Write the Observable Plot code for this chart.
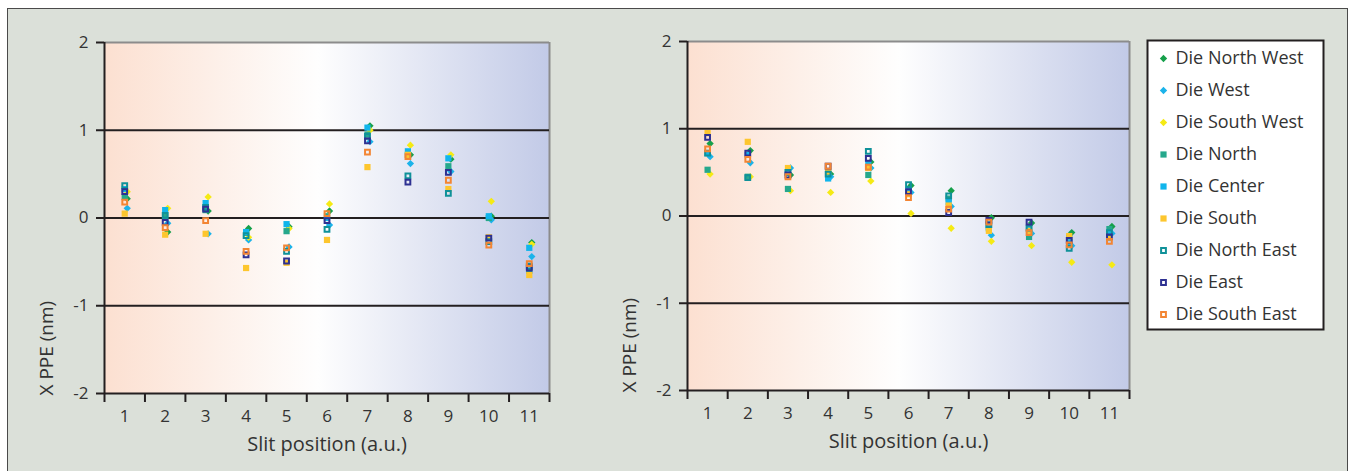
<!DOCTYPE html>
<html><head><meta charset="utf-8">
<script src="https://cdn.jsdelivr.net/npm/d3@7"></script>
<script src="https://cdn.jsdelivr.net/npm/@observablehq/plot@0.6"></script>
<style>
body{margin:0;background:#fff;width:1355px;height:471px;overflow:hidden;position:relative;font-family:"Open Sans",sans-serif;}
#frame{position:absolute;left:7px;top:8px;width:1341px;height:470px;background:#dbe0d9;border:1.5px solid #4a4a4a;box-sizing:border-box;}
#left{position:absolute;left:0;top:0;}
#right{position:absolute;left:600px;top:0;}
#legend{position:absolute;left:1147px;top:40px;}
svg{overflow:visible;}
</style></head><body>
<div id="frame"></div><div id="left"></div><div id="right"></div><div id="legend"></div>
<script>
const positions = [1,2,3,4,5,6,7,8,9,10,11];
const boundaries = [0.5,1.5,2.5,3.5,4.5,5.5,6.5,7.5,8.5,9.5,10.5,11.5];
const yTicks = [-2,-1,0,1,2];
const seriesNames = ["Die North West","Die West","Die South West","Die North","Die Center","Die South","Die North East","Die East","Die South East"];

// Left chart values (X PPE, nm)
const leftNW = [0.22,-0.16,0.08,-0.12,-0.10,0.08,1.05,0.72,0.67,0.02,-0.28];
const leftW  = [0.11,-0.06,-0.18,-0.25,-0.33,-0.08,0.87,0.62,0.53,-0.02,-0.44];
const leftSW = [0.30,0.11,0.24,-0.22,-0.12,0.16,1.00,0.83,0.72,0.19,-0.30];
const leftN  = [0.24,0.02,0.09,-0.17,-0.15,0.02,0.95,0.72,0.59,0.00,-0.60];
const leftC  = [0.33,0.09,0.17,-0.16,-0.07,0.00,1.03,0.76,0.68,0.02,-0.34];
const leftS  = [0.05,-0.19,-0.18,-0.57,-0.51,-0.25,0.58,0.72,0.33,-0.22,-0.65];
const leftNE = [0.37,0.03,0.12,-0.20,-0.38,-0.13,0.93,0.48,0.28,-0.27,-0.55];
const leftE  = [0.30,-0.05,0.10,-0.42,-0.49,-0.03,0.88,0.41,0.52,-0.23,-0.57];
const leftSE = [0.18,-0.11,-0.03,-0.38,-0.34,0.05,0.75,0.70,0.43,-0.31,-0.52];

// Right chart values (X PPE, nm)
const rightNW = [0.83,0.75,0.47,0.48,0.62,0.35,0.29,-0.02,-0.08,-0.19,-0.12];
const rightW  = [0.68,0.61,0.55,0.45,0.55,0.27,0.11,-0.22,-0.20,-0.34,-0.20];
const rightSW = [0.48,0.45,0.29,0.27,0.40,0.03,-0.14,-0.29,-0.34,-0.53,-0.56];
const rightN  = [0.53,0.45,0.31,0.50,0.47,0.28,0.20,-0.14,-0.24,-0.25,-0.15];
const rightC  = [0.72,0.70,0.50,0.43,0.60,0.30,0.16,-0.12,-0.15,-0.30,-0.20];
const rightS  = [0.95,0.85,0.55,0.51,0.55,0.25,0.12,-0.17,-0.17,-0.23,-0.25];
const rightNE = [0.72,0.44,0.50,0.48,0.74,0.36,0.23,-0.10,-0.14,-0.37,-0.19];
const rightE  = [0.90,0.72,0.47,0.57,0.66,0.28,0.04,-0.05,-0.07,-0.28,-0.24];
const rightSE = [0.77,0.65,0.45,0.57,0.56,0.21,0.08,-0.07,-0.19,-0.33,-0.29];

const yLabel = "X PPE (nm)";
const xLabel = "Slit position (a.u.)";

// styles
const seriesColors = ["#16a04b","#1bb3ea","#f5ea14","#26a88c","#10b5ec","#fdc62e","#0f9199","#2e3192","#f38533"];
const seriesKinds = ["diamond","diamond","diamond","square","square","square","hollow","hollow","hollow"];

function dotOpts(i) {
  const k = seriesKinds[i], c = seriesColors[i];
  if (k === "diamond") return {symbol: "diamond2", r: 3.3, fill: c, stroke: null, dx: 2.5};
  if (k === "square") return {symbol: "square", r: 3.5, fill: c, stroke: null};
  return {symbol: "square", r: 2.7, fill: "none", stroke: c, strokeWidth: 2};
}

function gradDefs(gid) {
  return () => {
    const d = d3.create("svg:defs");
    const g = d.append("linearGradient").attr("id", gid).attr("x1", 0).attr("x2", 1).attr("y1", 0).attr("y2", 0);
    [[0, "#fce0d1"], [0.48, "#fefefe"], [1, "#c2cae7"]].forEach(([o, c]) => g.append("stop").attr("offset", o).attr("stop-color", c));
    return d.node();
  };
}

function chart(series, o) {
  const marks = [
    gradDefs(o.gid),
    Plot.frame({fill: `url(#${o.gid})`, stroke: null}),
    Plot.ruleY([2], {stroke: "#8c8c8c", strokeWidth: 2}),
    Plot.ruleX([11.5], {stroke: "#8c8c8c", strokeWidth: 2}),
    Plot.ruleY([1, 0, -1, -2], {stroke: "#231f20", strokeWidth: 2}),
    Plot.ruleX([0.5], {stroke: "#231f20", strokeWidth: 2}),
    Plot.axisY({ticks: yTicks, tickSize: 8, tickPadding: 8, tickFormat: d => String(d), label: null, stroke: "#231f20", strokeWidth: 2, fill: "#333", fontSize: 17}),
    Plot.axisX({ticks: boundaries, tickSize: 9, tickFormat: () => "", label: null, stroke: "#231f20", strokeWidth: 2}),
    Plot.axisX({ticks: positions, tickSize: 0, tickPadding: 16, tickFormat: d => String(d), label: null, fill: "#333", fontSize: 17}),
  ];
  series.forEach((vals, i) => {
    const rows = vals.map((v, j) => ({pos: positions[j], value: v}));
    marks.push(Plot.dot(rows, {x: "pos", y: "value", ...dotOpts(i)}));
  });
  marks.push(Plot.text([yLabel], {frameAnchor: "bottom-left", rotate: -90, textAnchor: "start", lineAnchor: "middle", dx: -58, dy: 2, fontSize: 19, fill: "#333"}));
  marks.push(Plot.text([xLabel], {x: () => 6, frameAnchor: "bottom", lineAnchor: "middle", dy: 51, fontSize: 20, fill: "#333"}));
  return Plot.plot({
    width: o.width, height: 471,
    marginLeft: o.mL, marginRight: o.mR, marginTop: o.mT, marginBottom: o.mB,
    style: {background: "transparent", fontFamily: "'Open Sans', sans-serif", fontSize: "17px", color: "#333", overflow: "visible"},
    x: {domain: [0.5, 11.5]},
    y: {domain: [-2, 2]},
    marks
  });
}

document.getElementById("left").append(chart(
  [leftNW, leftW, leftSW, leftN, leftC, leftS, leftNE, leftE, leftSE],
  {gid: "gL", width: 600, mL: 104, mR: 51, mT: 42, mB: 78}));
document.getElementById("right").append(chart(
  [rightNW, rightW, rightSW, rightN, rightC, rightS, rightNE, rightE, rightSE],
  {gid: "gR", width: 540, mL: 87, mR: 11, mT: 41, mB: 81}));

const legendMarks = [Plot.frame({fill: "white", stroke: "#231f20", strokeWidth: 2})];
seriesNames.forEach((s, i) => {
  const op = dotOpts(i); delete op.dx;
  legendMarks.push(Plot.dot([s], {y: d => d, frameAnchor: "left", dx: 16, ...op}));
});
legendMarks.push(Plot.text(seriesNames, {y: d => d, frameAnchor: "left", dx: 28, textAnchor: "start", fontSize: 18, fill: "#333"}));
document.getElementById("legend").append(Plot.plot({
  width: 176, height: 289, margin: 0,
  style: {background: "transparent", fontFamily: "'Open Sans', sans-serif", fontSize: "18px", overflow: "visible"},
  y: {type: "point", domain: seriesNames, range: [16, 275], padding: 0, axis: null},
  marks: legendMarks
}));
</script>
</body></html>
